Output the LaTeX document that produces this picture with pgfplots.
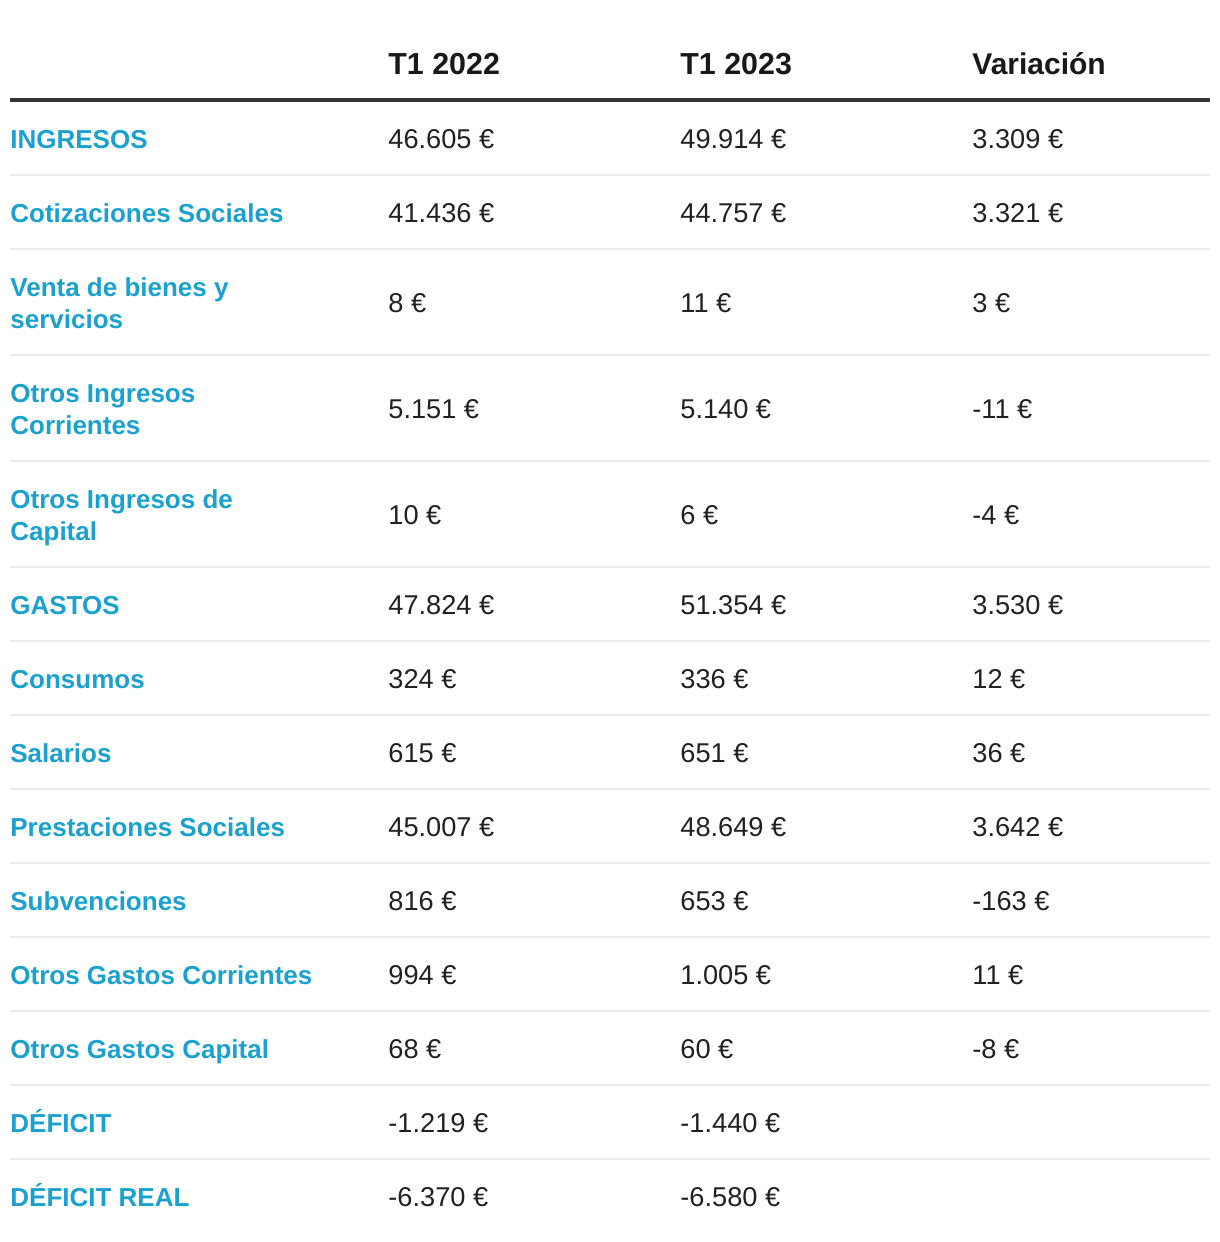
\documentclass[border=0pt]{standalone}
\usepackage{pgfplots}
\usepackage{pgfplotstable}
\pgfplotsset{compat=1.18}
\usepackage{fontspec}
\setmainfont{Liberation Sans}
\definecolor{lblue}{HTML}{1BA1CF}
\definecolor{txt}{HTML}{212121}
\definecolor{sepc}{HTML}{EBEBEB}
\definecolor{rulec}{HTML}{333333}
\tikzset{sepline/.style={sepc, line width=1pt}}

% row centre (pixels from top), T1 2022, T1 2023, Variacion
\pgfplotstableread[col sep=semicolon]{
y;a;b;c
138;46605;49914;3309
212;41436;44757;3321
302;8;11;3
408;5151;5140;-11
514;10;6;-4
604;47824;51354;3530
678;324;336;12
752;615;651;36
826;45007;48649;3642
900;816;653;-163
974;994;1005;11
1048;68;60;-8
1122;-1219;-1440;0
1196;-6370;-6580;0
}\datatab

% label baselines (one entry per text line)
\pgfplotstableread[col sep=semicolon]{
y;lab
148;INGRESOS
222;Cotizaciones Sociales
296;Venta de bienes y
328;servicios
402;Otros Ingresos
434;Corrientes
508;Otros Ingresos de
540;Capital
614;GASTOS
688;Consumos
762;Salarios
836;Prestaciones Sociales
910;Subvenciones
984;Otros Gastos Corrientes
1058;Otros Gastos Capital
1132;DÉFICIT
1206;DÉFICIT REAL
}\labtab

\begin{document}
\begin{tikzpicture}
\begin{axis}[
  width=610pt, height=621pt, scale only axis,
  xmin=0, xmax=1220, ymin=0, ymax=1242, y dir=reverse,
  hide axis, clip=false,
  valnode/.style={
    draw=none, mark=none, point meta=explicit,
    nodes near coords={\pgfmathprintnumber[fixed,precision=0,1000 sep={.},assume math mode=true]{\pgfplotspointmeta}~€},
    nodes near coords style={anchor=base west, inner sep=0pt, text=txt, font=\fontsize{13.6}{16}\selectfont},
  },
]
% invisible frame to fix bounding box
\path (axis cs:0,0) rectangle (axis cs:1220,1242);

% header
\node[anchor=base west, inner sep=0pt, text=black!90, font=\fontsize{15.2}{18}\selectfont\bfseries] at (axis cs:388,74) {T1 2022};
\node[anchor=base west, inner sep=0pt, text=black!90, font=\fontsize{15.2}{18}\selectfont\bfseries] at (axis cs:680,74) {T1 2023};
\node[anchor=base west, inner sep=0pt, text=black!90, font=\fontsize{15}{18}\selectfont\bfseries] at (axis cs:972,74) {Variación};

% rules
\draw[rulec, line width=2pt] (axis cs:10,100) -- (axis cs:1210,100);
\draw[sepline] (axis cs:10,175) -- (axis cs:1210,175);
\draw[sepline] (axis cs:10,249) -- (axis cs:1210,249);
\draw[sepline] (axis cs:10,355) -- (axis cs:1210,355);
\draw[sepline] (axis cs:10,461) -- (axis cs:1210,461);
\draw[sepline] (axis cs:10,567) -- (axis cs:1210,567);
\draw[sepline] (axis cs:10,641) -- (axis cs:1210,641);
\draw[sepline] (axis cs:10,715) -- (axis cs:1210,715);
\draw[sepline] (axis cs:10,789) -- (axis cs:1210,789);
\draw[sepline] (axis cs:10,863) -- (axis cs:1210,863);
\draw[sepline] (axis cs:10,937) -- (axis cs:1210,937);
\draw[sepline] (axis cs:10,1011) -- (axis cs:1210,1011);
\draw[sepline] (axis cs:10,1085) -- (axis cs:1210,1085);
\draw[sepline] (axis cs:10,1159) -- (axis cs:1210,1159);

% labels
\addplot[draw=none, mark=none, point meta=explicit symbolic,
  nodes near coords, nodes near coords style={anchor=base west, inner sep=0pt, text=lblue, font=\fontsize{13}{16}\selectfont\bfseries}]
  table[x expr=10, y=y, meta=lab]{\labtab};

% values
\addplot[valnode] table[x expr=388, y expr=\thisrow{y}+10, meta=a]{\datatab};
\addplot[valnode] table[x expr=680, y expr=\thisrow{y}+10, meta=b]{\datatab};
\addplot[valnode, skip coords between index={12}{14}] table[x expr=972, y expr=\thisrow{y}+10, meta=c]{\datatab};
\end{axis}
\end{tikzpicture}
\end{document}
